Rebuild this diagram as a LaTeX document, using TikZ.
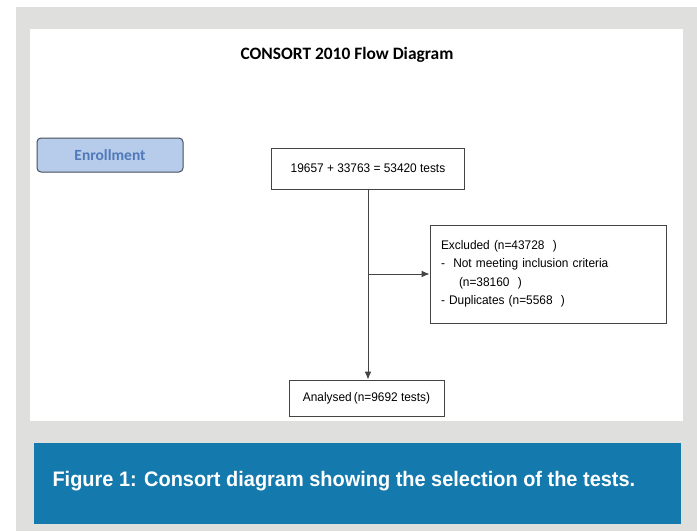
\documentclass[tikz,border=0pt]{standalone}
\usepackage{fontspec}
\usetikzlibrary{arrows.meta}
\setmainfont{Liberation Sans}
\newfontfamily\boxfont[FakeStretch=0.95]{Liberation Sans}
\newfontfamily\capfont[FakeStretch=0.95]{Liberation Sans}
\newfontfamily\titlefont{Carlito}
\definecolor{pagegray}{HTML}{DFDFDD}
\definecolor{capblue}{HTML}{1479AD}
\definecolor{enrolfill}{HTML}{B7CBEA}
\definecolor{enroltext}{HTML}{4F79B8}
\definecolor{linegray}{HTML}{444444}
\tikzset{
  box/.style={draw=linegray, line width=1pt, fill=white, inner sep=0pt,
    font=\boxfont\fontsize{12.5}{18.5}\selectfont},
  enrolbox/.style={draw=linegray!80!enroltext, line width=1pt, fill=enrolfill,
    rounded corners=4pt, minimum width=146pt, minimum height=34pt,
    font=\titlefont\bfseries\fontsize{15.5}{17}\selectfont, text=enroltext},
  flow/.style={draw=linegray, line width=1pt}
}
\begin{document}
\begin{tikzpicture}[x=1pt,y=-1pt]
                    \useasboundingbox (0,0) rectangle (697,531);
                    \fill[white] (0,0) rectangle (697,531);
                    \fill[pagegray] (16,7) rectangle (697,531);
                    \fill[white] (30,29) rectangle (683,421);
                    \fill[capblue] (34,443) rectangle (681,524);
                    
                    \node[font=\titlefont\bfseries\fontsize{17.4}{19}\selectfont] (title) at (347,55) {CONSORT 2010 Flow Diagram};
                    
                    \node[enrolbox] (enrol) at (110,155) {Enrollment};
                    
                    \node[box, minimum width=193pt, minimum height=41pt] (tests) at (368,168.5) {19657 + 33763 = 53420 tests};
                    \node[box, minimum width=236pt, minimum height=98pt, text width=214pt, align=left] (excl) at (548,274)
                    {Excluded (n=43728\ \ )\\
                     -\ \ Not meeting inclusion criteria\\
                     \hspace*{18pt}(n=38160\ \ )\\
                     - Duplicates (n=5568\ \ )};
                    \node[box, minimum width=155pt, minimum height=36pt] (anal) at (366.5,398) {Analysed\,(n=9692 tests)};
                    
                    \coordinate (split) at (tests.south |- excl.west);
                    \draw[flow,-{Latex[length=8pt,width=7pt]}] (tests.south) -- (tests.south |- anal.north);
                    \draw[flow,-{Latex[length=8pt,width=7pt]}] (split) -- (excl.west);
                    
                    \node[anchor=west, text=white, font=\capfont\bfseries\fontsize{21}{23}\selectfont] (caption) at (49,481) {Figure 1: Consort diagram showing the selection of the tests.};
                    
\end{tikzpicture}
\end{document}
